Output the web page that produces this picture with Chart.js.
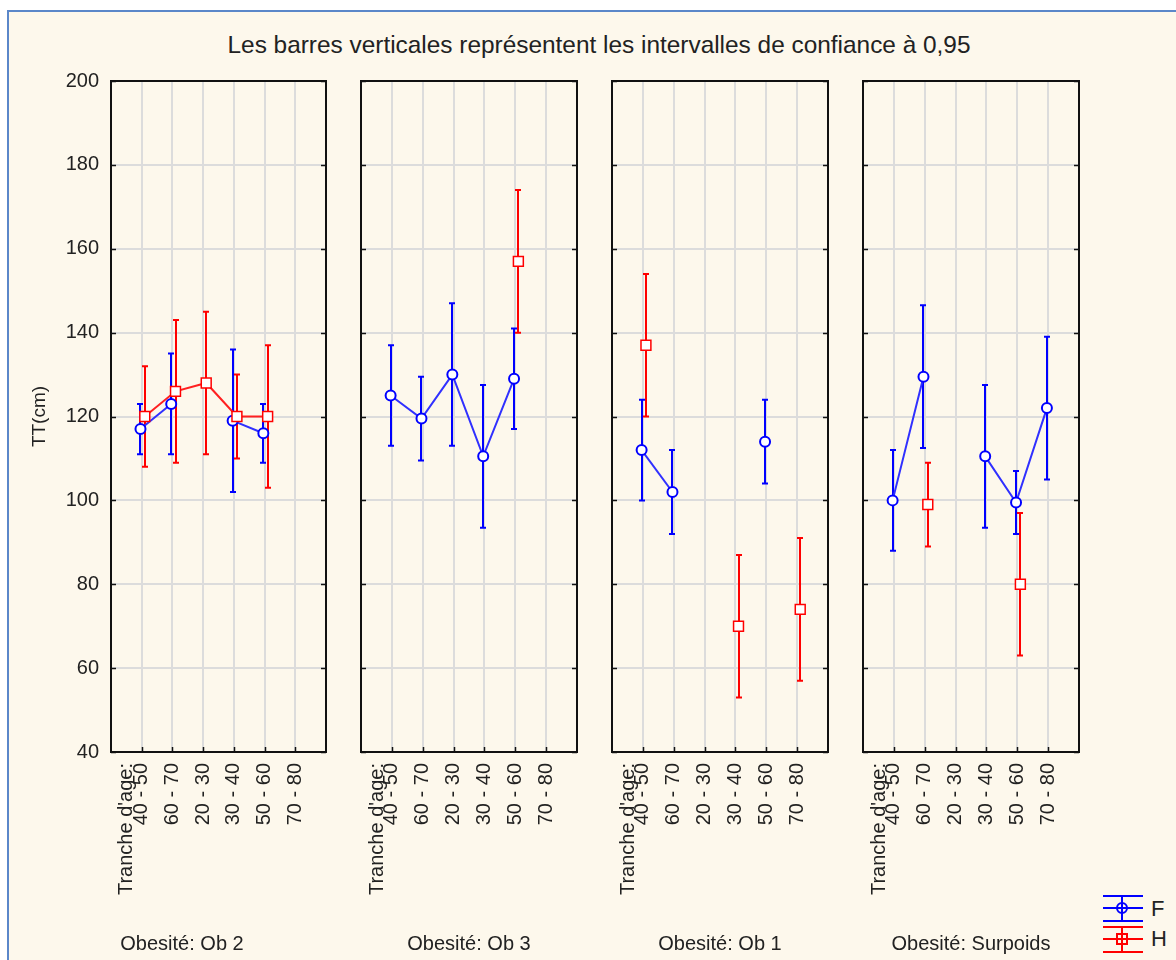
<!DOCTYPE html>
<html>
<head>
<meta charset="utf-8">
<script src="https://cdn.jsdelivr.net/npm/chart.js@4.4.0/dist/chart.umd.min.js"></script>
<style>
  html, body { margin: 0; padding: 0; background: #fff; overflow: hidden; width: 1176px; height: 960px; }
  #frame { position: absolute; left: 7px; top: 10px; width: 1200px; height: 980px; background: #fdf8ec;
           border-left: 2px solid #5b87c9; border-top: 2px solid #5b87c9; }
  #title { position: absolute; left: 599px; top: 31px; transform: translateX(-50%); white-space: nowrap;
           font: 24.4px Arial, "Liberation Sans", sans-serif; color: #222; line-height: 28px; }
  canvas.panel { position: absolute; top: 60px; }
  #legend { position: absolute; left: 1095px; top: 885px; }
</style>
</head>
<body>
<div id="frame"></div>
<div id="title">Les barres verticales représentent les intervalles de confiance à 0,95</div>
<canvas id="p0" class="panel" width="316" height="900" style="left:24px"></canvas>
<canvas id="p1" class="panel" width="240" height="900" style="left:349px"></canvas>
<canvas id="p2" class="panel" width="240" height="900" style="left:600px"></canvas>
<canvas id="p3" class="panel" width="240" height="900" style="left:851px"></canvas>
<svg id="legend" width="81" height="75">
  <g stroke="#0000ff" stroke-width="2" fill="none">
    <line x1="8" y1="11" x2="48" y2="11"/><line x1="8" y1="23" x2="48" y2="23"/><line x1="8" y1="36" x2="48" y2="36"/>
    <line x1="27" y1="11" x2="27" y2="36"/><circle cx="27" cy="23" r="5"/>
  </g>
  <g stroke="#ff0000" stroke-width="2" fill="none">
    <line x1="8" y1="42" x2="48" y2="42"/><line x1="8" y1="54" x2="48" y2="54"/><line x1="8" y1="67" x2="48" y2="67"/>
    <line x1="27" y1="42" x2="27" y2="67"/><rect x="22" y="49" width="10" height="10"/>
  </g>
  <text x="56" y="31" font-family="Arial, Liberation Sans, sans-serif" font-size="22" fill="#222">F</text>
  <text x="56" y="61" font-family="Arial, Liberation Sans, sans-serif" font-size="22" fill="#222">H</text>
</svg>
<script>
// age bands on the x axis (same order in every panel)
const categories = ['40 - 50', '60 - 70', '20 - 30', '30 - 40', '50 - 60', '70 - 80'];
const panelNames = ['Obesité: Ob 2', 'Obesité: Ob 3', 'Obesité: Ob 1', 'Obesité: Surpoids'];
const yMin = 40, yMax = 200, yStep = 20;

// means of TT(cm), and half width of the 0.95 confidence interval
const ob2F = [117, 123, null, 119, 116, null];
const ob2FErr = [6, 12, null, 17, 7, null];
const ob2H = [120, 126, 128, 120, 120, null];
const ob2HErr = [12, 17, 17, 10, 17, null];

const ob3F = [125, 119.5, 130, 110.5, 129, null];
const ob3FErr = [12, 10, 17, 17, 12, null];
const ob3H = [null, null, null, null, 157, null];
const ob3HErr = [null, null, null, null, 17, null];

const ob1F = [112, 102, null, null, 114, null];
const ob1FErr = [12, 10, null, null, 10, null];
const ob1H = [137, null, null, 70, null, 74];
const ob1HErr = [17, null, null, 17, null, 17];

const surF = [100, 129.5, null, 110.5, 99.5, 122];
const surFErr = [12, 17, null, 17, 7.5, 17];
const surH = [null, 99, null, null, 80, null];
const surHErr = [null, 10, null, null, 17, null];

const BLUE = '#0000ff';
const RED = '#ff0000';
const FONT = 'Arial, "Liberation Sans", sans-serif';

Chart.defaults.font.family = FONT;
Chart.defaults.color = '#222';

const panels = [
  { id: 'p0', name: panelNames[0], F: ob2F, FErr: ob2FErr, H: ob2H, HErr: ob2HErr },
  { id: 'p1', name: panelNames[1], F: ob3F, FErr: ob3FErr, H: ob3H, HErr: ob3HErr },
  { id: 'p2', name: panelNames[2], F: ob1F, FErr: ob1FErr, H: ob1H, HErr: ob1HErr },
  { id: 'p3', name: panelNames[3], F: surF, FErr: surFErr, H: surH, HErr: surHErr }
];

// small horizontal shift so the two groups don't overlap
const shiftF = -0.04;
const shiftH = 0.1;

function toPoints(values, shift) {
  return values.map((v, i) => ({ x: i + 1 + shift, y: v }));
}

function makeDecor(p) {
  return {
    id: 'decor_' + p.id,
    beforeDatasetsDraw(chart) {
      const { ctx } = chart;
      const xs = chart.scales.x, ys = chart.scales.y;
      const bars = [
        { means: p.F, err: p.FErr, shift: shiftF, color: BLUE },
        { means: p.H, err: p.HErr, shift: shiftH, color: RED }
      ];
      bars.forEach(b => {
        ctx.save();
        ctx.strokeStyle = b.color;
        ctx.lineWidth = 2;
        b.means.forEach((m, i) => {
          if (m == null) return;
          const x = Math.round(xs.getPixelForValue(i + 1 + b.shift));
          const yHi = ys.getPixelForValue(m + b.err[i]);
          const yLo = ys.getPixelForValue(m - b.err[i]);
          ctx.beginPath();
          ctx.moveTo(x, yHi); ctx.lineTo(x, yLo);
          ctx.moveTo(x - 3, yHi); ctx.lineTo(x + 3, yHi);
          ctx.moveTo(x - 3, yLo); ctx.lineTo(x + 3, yLo);
          ctx.stroke();
        });
        ctx.restore();
      });
    },
    afterDraw(chart) {
      const { ctx, chartArea: a } = chart;
      const xs = chart.scales.x, ys = chart.scales.y;
      ctx.save();
      // frame of the plot
      ctx.strokeStyle = '#111';
      ctx.lineWidth = 2;
      ctx.strokeRect(a.left, a.top, a.right - a.left, a.bottom - a.top);
      // inner tick marks
      ctx.lineWidth = 1.5;
      ctx.beginPath();
      ys.ticks.forEach(t => {
        const y = Math.round(ys.getPixelForValue(t.value)) + 0.5;
        ctx.moveTo(a.left, y); ctx.lineTo(a.left + 5, y);
        ctx.moveTo(a.right - 5, y); ctx.lineTo(a.right, y);
      });
      categories.forEach((c, i) => {
        const x = Math.round(xs.getPixelForValue(i + 1)) + 0.5;
        ctx.moveTo(x, a.bottom); ctx.lineTo(x, a.bottom - 5);
      });
      ctx.stroke();
      // axis name, rotated like the tick labels
      ctx.fillStyle = '#222';
      ctx.font = '20px ' + FONT;
      ctx.translate(xs.getPixelForValue(0.52), a.bottom + 11);
      ctx.rotate(-Math.PI / 2);
      ctx.textAlign = 'right';
      ctx.textBaseline = 'middle';
      ctx.fillText("Tranche d'age:", 0, 0);
      ctx.restore();
      // panel caption
      ctx.save();
      ctx.fillStyle = '#222';
      ctx.font = '20px ' + FONT;
      ctx.textAlign = 'center';
      ctx.textBaseline = 'middle';
      ctx.fillText(p.name, chart.width / 2, 884);
      ctx.restore();
    }
  };
}

panels.forEach((p, idx) => {
  const first = idx === 0;
  new Chart(document.getElementById(p.id), {
    type: 'line',
    data: {
      datasets: [
        {
          label: 'F',
          data: toPoints(p.F, shiftF),
          borderColor: '#3030ff',
          borderWidth: 2,
          pointStyle: 'circle',
          pointRadius: 5,
          pointBorderWidth: 2,
          pointBorderColor: BLUE,
          pointBackgroundColor: '#fff',
          spanGaps: false,
          order: 1
        },
        {
          label: 'H',
          data: toPoints(p.H, shiftH),
          borderColor: '#ff2020',
          borderWidth: 2,
          pointStyle: 'rect',
          pointRadius: 7,
          pointBorderWidth: 1.5,
          pointBorderColor: RED,
          pointBackgroundColor: '#fff',
          spanGaps: false,
          order: 0
        }
      ]
    },
    options: {
      responsive: false,
      animation: false,
      events: [],
      layout: { padding: { top: 21, right: first ? 14 : 12, bottom: 28, left: 0 } },
      plugins: { legend: { display: false }, tooltip: { enabled: false } },
      scales: {
        x: {
          type: 'linear',
          min: 0,
          max: categories.length + 1,
          border: { display: false },
          grid: { color: '#dcdcdc', lineWidth: 2, drawTicks: false },
          ticks: {
            stepSize: 1,
            autoSkip: false,
            minRotation: 90,
            maxRotation: 90,
            padding: 11,
            font: { size: 20 },
            callback: v => categories[v - 1] || ''
          },
          afterFit(s) {
            s.height = 180;
            s.paddingLeft = 0; s.paddingRight = 0;
          }
        },
        y: {
          min: yMin,
          max: yMax,
          border: { display: false },
          grid: { color: '#dcdcdc', lineWidth: 2, drawTicks: false },
          ticks: { display: first, stepSize: yStep, padding: 12, font: { size: 20 } },
          title: { display: first, text: 'TT(cm)', font: { size: 19 }, padding: { top: 4, bottom: 0 } },
          afterFit(s) {
            s.width = first ? 87 : 12;
            s.paddingTop = 0; s.paddingBottom = 0;
          }
        }
      }
    },
    plugins: [makeDecor(p)]
  });
});
</script>
</body>
</html>
